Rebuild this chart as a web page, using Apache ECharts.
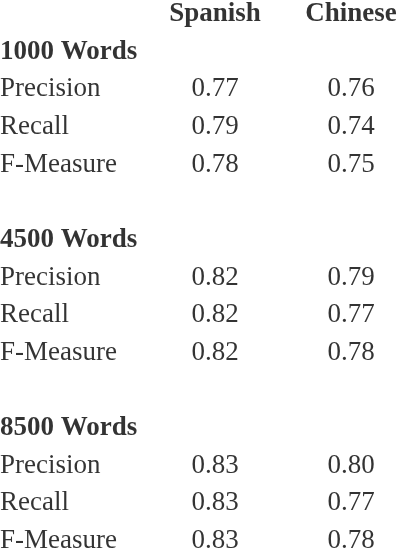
<!DOCTYPE html>
<html>
<head>
<meta charset="utf-8">
<script src="https://cdn.jsdelivr.net/npm/echarts@6/dist/echarts.min.js"></script>
<style>html,body{margin:0;padding:0;background:#fff}#chart{width:404px;height:552px}</style>
</head>
<body>
<div id="chart"></div>
<script>
// 表格行
var rowLabels = ['', '1000 Words', 'Precision', 'Recall', 'F-Measure', '',
  '4500 Words', 'Precision', 'Recall', 'F-Measure', '',
  '8500 Words', 'Precision', 'Recall', 'F-Measure'];
var boldRows = [1, 6, 11];
var columns = ['Spanish', 'Chinese'];
var spanish = [null, null, 0.77, 0.79, 0.78, null, null, 0.82, 0.82, 0.82, null, null, 0.83, 0.83, 0.83];
var chinese = [null, null, 0.76, 0.74, 0.75, null, null, 0.79, 0.77, 0.78, null, null, 0.80, 0.77, 0.78];

var colX = [215, 351];
var font = 'Liberation Serif, Times New Roman, serif';
var chart = echarts.init(document.getElementById('chart'));

var labelData = [];
rowLabels.forEach(function (t, i) {
  if (t) labelData.push({value: [0, i], name: t, bold: boldRows.indexOf(i) >= 0});
});
var cellData = [];
[spanish, chinese].forEach(function (arr, c) {
  cellData.push({value: [colX[c], 0], name: columns[c], bold: true});
  arr.forEach(function (v, i) {
    if (v != null) cellData.push({value: [colX[c], i], name: v.toFixed(2), bold: false});
  });
});

function textLabel(align) {
  return {
    show: true, position: 'inside', align: align, verticalAlign: 'middle',
    fontFamily: font, fontSize: 27, color: '#000',
    formatter: function (p) { return p.data.bold ? '{b|' + p.name + '}' : p.name; },
    rich: {b: {fontFamily: font, fontSize: 27, fontWeight: 'bold', color: '#000'}}
  };
}

chart.setOption({
  animation: false,
  grid: {left: 0, right: 0, top: 14, bottom: 11},
  xAxis: {type: 'value', min: 0, max: 404, show: false},
  yAxis: {type: 'category', data: rowLabels.map(function (r, i) { return i; }),
    boundaryGap: false, inverse: true, show: false},
  series: [
    {type: 'scatter', symbolSize: 0, data: labelData, label: textLabel('left'), silent: true},
    {type: 'scatter', symbolSize: 0, data: cellData, label: textLabel('center'), silent: true}
  ]
});
</script>
</body>
</html>
